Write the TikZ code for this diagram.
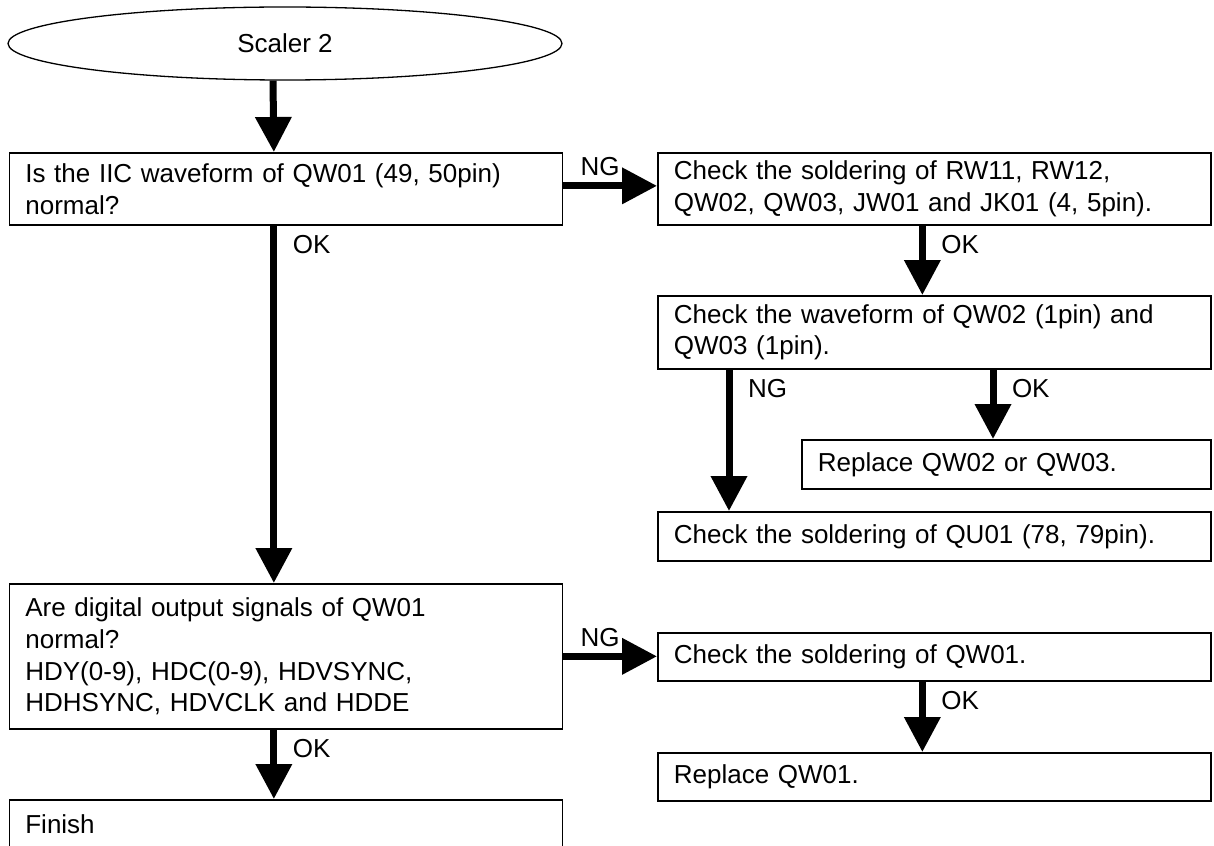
\documentclass[tikz,border=0pt]{standalone}
\usepackage{fontspec}
\setmainfont{Liberation Sans}
\usepackage{tikz}
\usetikzlibrary{arrows.meta,positioning,shapes.geometric}
\tikzset{
  txt/.style    = {font=\fontsize{13pt}{15.9pt}\selectfont},
  box/.style    = {txt, draw, line width=0.85pt, anchor=north west, align=left,
                   minimum width=276.5pt, text width=260.5pt, inner xsep=8pt, inner ysep=2pt},
  oval/.style   = {txt, ellipse, draw, line width=0.65pt, minimum width=277pt,
                   minimum height=36.5pt, inner sep=0pt},
  flow/.style   = {line width=3.5pt, -{Triangle[length=17.5pt,width=17.5pt]}},
  downlbl/.style= {txt, anchor=base west, inner sep=0pt, xshift=7.75pt, yshift=-13.75pt},
  sidelbl/.style= {txt, anchor=base west, inner sep=0pt, xshift=7pt, yshift=5pt},
}
\begin{document}
\begin{tikzpicture}[x=0.5pt,y=-0.5pt]
  \useasboundingbox (0,0) rectangle (1214,845);
  % left column
  \node[oval] (start) at (285,43.5) {Scaler 2};
  \node[box, minimum height=36pt] (q1) at (8.5,152)
      {Is the IIC waveform of QW01 (49, 50pin)\\normal?};
  \node[box, minimum height=72.5pt] (q2) at (8.5,583)
      {Are digital output signals of QW01\\normal?\\HDY(0-9), HDC(0-9), HDVSYNC,\\HDHSYNC, HDVCLK and HDDE};
  \node[box, minimum height=24.5pt] (fin) at (8.5,799) {Finish};
  % right column
  \node[box, minimum height=36pt] (c1) at (657,152)
      {Check the soldering of RW11, RW12,\\QW02, QW03, JW01 and JK01 (4, 5pin).};
  \node[box, minimum height=36.5pt] (c2) at (657,295)
      {Check the waveform of QW02 (1pin) and\\QW03 (1pin).};
  \node[box, minimum width=204.5pt, text width=188.5pt, minimum height=24.5pt] (r1) at (801,439)
      {Replace QW02 or QW03.};
  \node[box, minimum height=24.5pt] (c3) at (657,511) {Check the soldering of QU01 (78, 79pin).};
  \node[box, minimum height=24pt] (c4) at (657,632) {Check the soldering of QW01.};
  \node[box, minimum height=24pt] (r2) at (657,752) {Replace QW01.};

  \draw[flow] ([xshift=-6pt]start.south) -- ([xshift=-6pt]q1.north);
  \draw[flow] ([xshift=-6pt]q1.south) node[downlbl] {OK} -- ([xshift=-6pt]q2.north);
  \draw[flow] ([yshift=1.5pt]q1.east) node[sidelbl] {NG} -- ([yshift=1.5pt]c1.west);
  \draw[flow] ([xshift=-6pt]c1.south) node[downlbl] {OK} -- ([xshift=-6pt]c2.north);
  \draw[flow] ([xshift=36pt]c2.south west) node[downlbl] {NG} -- ([xshift=36pt]c3.north west);
  \draw[flow] ([xshift=168pt]c2.south west) node[downlbl] {OK} -- ([xshift=96pt]r1.north west);
  \draw[flow] (q2.east) node[sidelbl] {NG} -- (q2.east -| c4.west);
  \draw[flow] ([xshift=-6pt]c4.south) node[downlbl] {OK} -- ([xshift=-6pt]r2.north);
  \draw[flow] ([xshift=-6pt]q2.south) node[downlbl] {OK} -- ([xshift=-6pt]fin.north);
\end{tikzpicture}
\end{document}
